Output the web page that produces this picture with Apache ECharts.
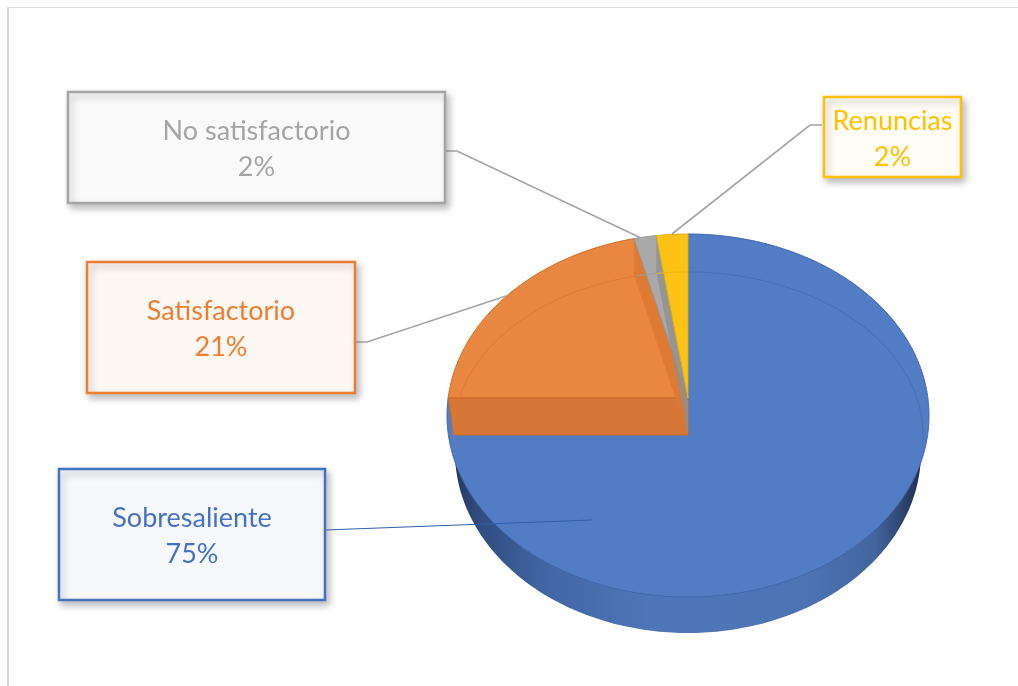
<!DOCTYPE html>
<html>
<head>
<meta charset="utf-8">
<style>html,body{margin:0;padding:0;background:#fff}#c{width:1018px;height:686px}</style>
<script src="https://cdn.jsdelivr.net/npm/echarts@6/dist/echarts.min.js"></script>
</head>
<body>
<div id="c"></div>
<script>
const categories = ['Sobresaliente', 'Satisfactorio', 'No satisfactorio', 'Renuncias'];
const shares = [75, 21.4, 1.5, 2.1];

const sliceColors = ['#527dc5', '#e9863f', '#a9a9a9', '#fdc216'];
const edgeColors = ['#3f67ad', '#cf6c2a', '#989898', '#e6ae10'];
const wallColors = [null, '#dc7833', '#8f8f8f', null];
const innerArcColors = ['#4570b8', '#de7a34', '#9e9e9e', '#f0b510'];
const textColors = ['#4472c4', '#ed7d31', '#a5a5a5', '#ffc000'];
const boxFills = ['#f6f8fc', '#fef8f4', '#fafafa', '#fffdf6'];
const leaderColors = ['#2f5fae', '#a5a5a5', '#a5a5a5', '#a5a5a5'];
const boxes = [[59, 469, 266, 131], [87, 262, 268, 131], [68, 92, 377, 111], [824, 97, 137, 80]];
const leaders = [
  [[325, 530], [592, 520]],
  [[355, 342], [367, 342], [506, 296]],
  [[445, 151], [457, 151], [641, 238]],
  [[822, 125], [810, 125], [672, 234]]
];
const pie = { cx: 688, cy: 415.5, rx: 241, ry: 181.5, apexX: 688, apexY: 398, rayRy: 164, depth: 37,
  botCy: 452, botRx: 233, botRy: 181, arcCy: 435, arcRx: 235, arcRy: 163, blueArcEnd: 94 };

const rad = d => d * Math.PI / 180;
function outline(deg) {
  const dx = pie.rx * Math.sin(rad(deg)), dy = -pie.rayRy * Math.cos(rad(deg));
  const ox = (pie.apexX - pie.cx) / pie.rx, oy = (pie.apexY - pie.cy) / pie.ry;
  const ux = dx / pie.rx, uy = dy / pie.ry;
  const a = ux * ux + uy * uy, b = 2 * (ox * ux + oy * uy), c = ox * ox + oy * oy - 1;
  const t = (-b + Math.sqrt(b * b - 4 * a * c)) / (2 * a);
  return [pie.apexX + t * dx, pie.apexY + t * dy];
}
function innerArc(deg) {
  return [pie.cx + pie.arcRx * Math.sin(rad(deg)), pie.arcCy - pie.arcRy * Math.cos(rad(deg))];
}
function sweep(from, to, fn) {
  const n = Math.max(2, Math.ceil(Math.abs(to - from) * 2));
  const pts = [];
  for (let i = 0; i <= n; i++) pts.push(fn(from + (to - from) * i / n));
  return pts;
}
const total = shares.reduce((a, b) => a + b, 0);
const starts = shares.map((_, i) => shares.slice(0, i).reduce((a, b) => a + b, 0) / total * 360);

function renderItem(params, api) {
  const i = params.dataIndex, v = api.value(0);
  const from = starts[i], to = from + v / total * 360;
  const kids = [];
  const apex = [pie.apexX, pie.apexY];
  if (i === 0) {
    const wall = [];
    for (let d = 0; d < 360; d += 1) {
      wall.push([pie.cx + pie.botRx * Math.sin(rad(d)), pie.botCy - pie.botRy * Math.cos(rad(d))]);
    }
    kids.push({ type: 'polygon', shape: { points: wall }, style: {
      fill: new echarts.graphic.LinearGradient(0, 0, 1, 0, [
        { offset: 0, color: '#25395f' }, { offset: 0.05, color: '#304c7f' },
        { offset: 0.2, color: '#4266a6' }, { offset: 0.42, color: '#4f76b8' },
        { offset: 0.75, color: '#4c73b4' }, { offset: 0.9, color: '#44659f' },
        { offset: 1, color: '#1f3050' }
      ]) } });
  }
  const face = [apex].concat(sweep(from, to, outline));
  kids.push({ type: 'polygon', shape: { points: face }, style: { fill: sliceColors[i], stroke: edgeColors[i], lineWidth: 1 } });
  if (i === 1) {
    const p = outline(to);
    const q = outline(from);
    kids.push({ type: 'polygon', shape: { points: [q, apex, [pie.apexX, pie.arcCy], [q[0] + 6, pie.arcCy]] },
      style: { fill: '#d67637', stroke: '#cc6a28', lineWidth: 1 } });
    kids.push({ type: 'polygon', shape: { points: [p, [p[0], p[1] + pie.depth], [pie.apexX, pie.arcCy], apex] },
      style: { fill: wallColors[i], opacity: 0.85 } });
  }
  if (i === 2) {
    const p = outline(to);
    kids.push({ type: 'polygon', shape: { points: [p, [p[0], p[1] + pie.depth], [pie.apexX, pie.arcCy], apex] },
      style: { fill: wallColors[i], opacity: 0.75 } });
  }
  const arcTo = i === 0 ? pie.blueArcEnd : to;
  kids.push({ type: 'polyline', shape: { points: sweep(from, arcTo, innerArc) },
    style: { fill: null, stroke: innerArcColors[i], lineWidth: 1 } });

  const [bx, by, bw, bh] = boxes[i];
  kids.push({ type: 'polyline', shape: { points: leaders[i] },
    style: { fill: null, stroke: leaderColors[i], lineWidth: i === 0 ? 1 : 1.7 } });
  kids.push({ type: 'rect', shape: { x: bx, y: by, width: bw, height: bh },
    style: { fill: boxFills[i], stroke: textColors[i], lineWidth: 2.5,
      shadowBlur: 7, shadowOffsetX: 3, shadowOffsetY: 4, shadowColor: 'rgba(90,90,90,0.4)' } });
  kids.push({ type: 'text', style: {
    x: bx + bw / 2, y: by + bh / 2 + 2, text: api.value(1) + '\n' + Math.round(v / total * 100) + '%',
    fill: textColors[i], font: '27px Lato', lineHeight: 36, align: 'center', verticalAlign: 'middle' } });
  return { type: 'group', children: kids };
}

const chart = echarts.init(document.getElementById('c'), null, { renderer: 'canvas' });
chart.setOption({
  animation: false,
  backgroundColor: '#ffffff',
  graphic: [
    { type: 'line', z: 0, shape: { x1: 8, y1: 7.5, x2: 1018, y2: 7.5 }, style: { stroke: '#dcdcdc', lineWidth: 1 } },
    { type: 'line', z: 0, shape: { x1: 8, y1: 7, x2: 8, y2: 686 }, style: { stroke: '#d6d6d6', lineWidth: 2 } }
  ],
  series: [{
    type: 'custom',
    coordinateSystem: 'none',
    clip: false,
    renderItem,
    data: categories.map((n, i) => [shares[i], n]),
    dimensions: ['share', { name: 'name', type: 'ordinal' }],
    encode: { value: 0 }
  }]
});
</script>
</body>
</html>
